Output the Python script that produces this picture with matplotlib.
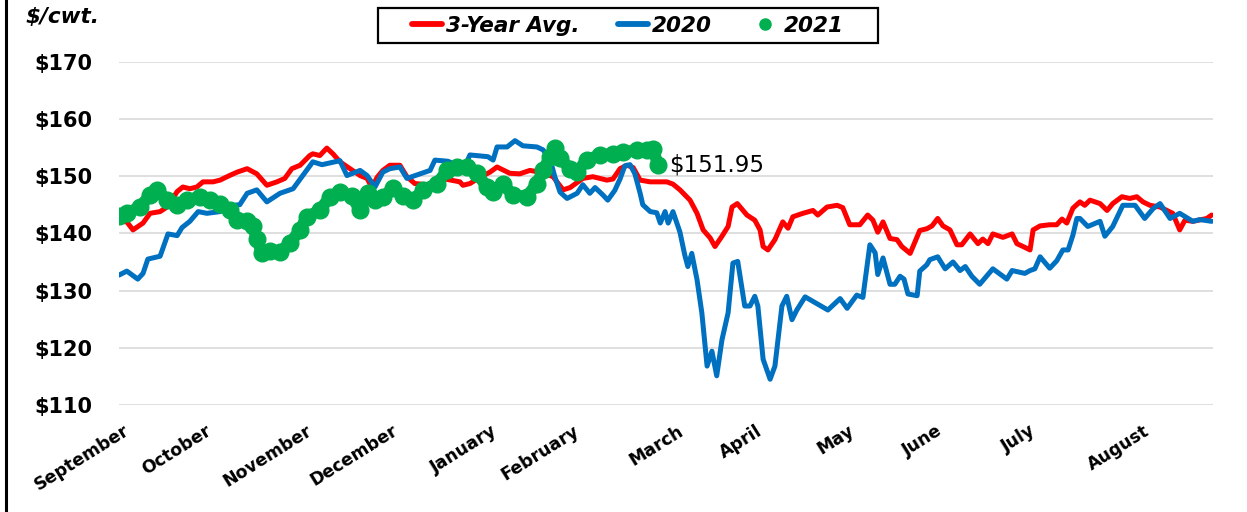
import matplotlib
matplotlib.use("Agg")
import matplotlib.pyplot as plt
from matplotlib.lines import Line2D
from matplotlib.patches import Rectangle

# ---------------- data (x = trading-day index within the marketing year) ----------------
avg_day = [0, 1.8, 3.2, 5.5, 7.1, 9.4, 11.0, 13.3, 14.6, 16.2, 17.8, 19.2, 21.5, 23.1, 24.7, 27.0,
           29.3, 31.5, 33.8, 36.1, 37.9, 39.5, 41.4, 43.6, 44.3, 45.9, 47.5, 48.9, 50.5, 52.8, 55.1,
           56.7, 57.8, 59.0, 60.3, 61.9, 64.2, 65.8, 67.6, 70.6, 74.5, 77.9, 78.6, 80.2, 82.5, 84.8,
           86.4, 89.3, 91.6, 93.9, 96.9, 99.2, 100.1, 101.5, 103.1, 106.0, 108.3, 111.5, 112.9,
           114.5, 116.1, 117.5, 119.1, 121.4, 123.7, 125.2, 126.6, 128.2, 130.5, 132.1, 133.5,
           135.1, 136.2, 137.8, 139.2, 140.1, 141.3, 143.5, 145.3, 146.5, 147.2, 148.3, 149.9,
           151.7, 152.9, 154.0, 156.3, 158.6, 159.7, 161.8, 164.1, 165.4, 167.0, 169.3, 171.1,
           172.3, 173.4, 174.6, 176.2, 177.8, 178.9, 180.8, 183.0, 184.6, 185.8, 187.1, 188.3,
           189.9, 191.5, 192.6, 194.5, 196.3, 197.4, 198.6, 199.7, 202.0, 204.1, 205.2, 206.6,
           208.2, 208.9, 210.5, 212.7, 214.3, 215.5, 216.6, 218.0, 219.6, 220.7, 221.9, 224.2,
           225.8, 227.1, 229.2, 231.0, 232.6, 234.0, 235.6, 237.9, 240.8, 242.4, 243.6, 245.4,
           248.6, 249.7]
avg_3yr = [142.1, 142.0, 140.6, 141.8, 143.5, 143.8, 144.6, 147.3, 148.1, 147.8, 148.1, 149.0,
           149.0, 149.3, 149.9, 150.7, 151.3, 150.4, 148.4, 149.0, 149.6, 151.3, 151.9, 153.6,
           153.9, 153.6, 154.9, 153.9, 152.5, 151.3, 150.1, 149.6, 148.0, 149.8, 151.0, 151.9,
           151.9, 149.9, 148.7, 148.5, 149.5, 149.0, 148.4, 148.7, 149.8, 150.7, 151.6, 150.5,
           150.4, 151.0, 150.6, 149.9, 149.0, 147.6, 148.0, 149.6, 149.9, 149.3, 149.5, 151.3,
           151.9, 151.5, 149.3, 149.0, 149.0, 149.0, 148.6, 147.6, 145.8, 143.5, 140.6, 139.2,
           137.7, 139.5, 141.2, 144.6, 145.2, 143.2, 142.3, 140.6, 137.7, 137.1, 138.9, 142.0,
           140.9, 142.9, 143.5, 144.0, 143.2, 144.6, 144.9, 144.5, 141.5, 141.5, 143.2, 142.3,
           140.2, 142.0, 139.1, 138.9, 137.7, 136.5, 140.5, 140.8, 141.3, 142.6, 141.3, 140.6,
           138.0, 138.0, 139.9, 138.2, 139.0, 138.2, 139.9, 139.3, 139.9, 138.2, 137.7, 137.1,
           140.6, 141.3, 141.5, 141.5, 142.5, 141.8, 144.4, 145.5, 144.9, 145.8, 145.2, 144.0,
           145.2, 146.4, 146.1, 146.4, 145.5, 144.9, 144.6, 143.5, 140.6, 142.3, 142.1, 142.6,
           143.2]

y2020_day = [0, 1.8, 4.3, 5.5, 6.6, 9.4, 11.2, 13.3, 14.4, 16.2, 18.1, 20.1, 23.1, 26.0, 27.6,
             29.3, 31.5, 33.8, 36.8, 39.8, 42.0, 44.3, 46.4, 48.2, 50.5, 52.1, 55.1, 56.7, 58.5,
             60.3, 61.9, 64.2, 65.8, 68.1, 71.1, 72.2, 75.2, 76.3, 79.1, 80.2, 84.3, 85.5, 86.4,
             88.7, 90.5, 92.3, 95.5, 96.9, 98.5, 99.6, 100.8, 102.4, 104.7, 106.0, 107.6, 108.8,
             110.6, 111.7, 113.3, 114.5, 115.6, 116.8, 117.9, 119.1, 119.7, 121.4, 122.9, 123.7,
             124.8, 125.5, 126.6, 128.2, 129.3, 130.0, 130.9, 132.1, 133.2, 134.4, 135.5, 136.6,
             137.8, 139.2, 140.3, 141.4, 143.0, 144.2, 145.3, 146.0, 147.2, 148.8, 149.9, 151.5,
             152.6, 153.8, 154.9, 156.8, 159.5, 162.0, 164.8, 166.4, 168.6, 170.0, 171.6, 172.8,
             173.4, 174.6, 176.2, 177.3, 178.5, 179.4, 180.3, 182.4, 183.0, 184.6, 185.3, 187.1,
             188.8, 190.6, 192.2, 193.4, 194.9, 196.7, 199.7, 202.9, 204.1, 205.9, 207.0, 208.2,
             209.3, 210.5, 212.7, 214.3, 215.7, 216.9, 218.0, 218.9, 219.6, 221.4, 224.2, 225.3,
             227.1, 229.4, 232.2, 234.4, 236.3, 237.9, 240.2, 242.4, 245.4, 247.0, 249.7]
y2020 = [132.7, 133.4, 132.0, 133.0, 135.5, 136.0, 139.9, 139.6, 141.0, 142.1, 143.8, 143.5,
         143.8, 144.9, 145.0, 147.0, 147.6, 145.5, 147.0, 147.8, 150.1, 152.5, 152.0, 152.3,
         152.7, 150.1, 151.0, 150.1, 148.1, 150.7, 151.3, 151.6, 149.6, 150.2, 151.0, 152.8,
         152.6, 152.2, 151.8, 153.7, 153.4, 152.8, 155.1, 155.1, 156.2, 155.3, 155.1, 154.6,
         153.0, 149.9, 147.2, 146.1, 147.0, 148.5, 147.0, 148.0, 146.7, 145.8, 147.5, 149.5,
         151.8, 152.0, 150.4, 147.0, 145.0, 143.8, 143.6, 141.8, 143.8, 141.8, 143.8, 140.2,
         136.2, 134.2, 136.5, 131.9, 126.1, 116.8, 119.4, 115.1, 121.4, 126.1, 134.8, 135.1,
         127.3, 127.3, 129.0, 127.3, 118.0, 114.5, 116.8, 127.3, 129.0, 124.9, 126.6, 128.9,
         127.7, 126.6, 128.6, 126.9, 129.2, 128.8, 138.0, 136.6, 132.8, 135.7, 131.1, 131.1,
         132.5, 132.0, 129.4, 129.1, 133.4, 134.5, 135.4, 135.9, 133.8, 135.0, 133.5, 134.2,
         132.5, 131.1, 133.8, 132.0, 133.5, 133.2, 133.0, 133.5, 133.8, 135.9, 133.9, 135.2,
         137.1, 137.1, 139.7, 142.6, 142.6, 141.2, 142.1, 139.5, 141.2, 144.9, 144.9, 142.6,
         144.3, 145.2, 142.6, 143.5, 142.1, 142.4, 142.1]

y2021_day = [0, 1.8, 4.8, 7.1, 8.7, 11.0, 13.3, 15.5, 18.5, 20.8, 23.1, 25.4, 27.0, 29.3, 30.6,
             31.5, 32.7, 34.5, 36.8, 39.1, 41.4, 42.9, 45.9, 48.2, 50.5, 53.2, 55.1, 56.9, 58.5,
             60.3, 62.6, 64.9, 67.2, 69.5, 72.7, 75.0, 77.2, 79.5, 81.8, 84.1, 85.5, 87.7, 90.0,
             93.2, 95.5, 96.9, 98.5, 99.6, 100.8, 103.1, 104.7, 106.9, 109.9, 112.9, 115.2,
             118.4, 120.6, 122.0, 123.2]
y2021 = [143.0, 143.5, 144.6, 146.7, 147.6, 145.8, 144.9, 145.8, 146.4, 145.8, 145.2, 144.1,
         142.4, 142.1, 141.3, 139.0, 136.5, 137.0, 136.8, 138.3, 140.6, 142.9, 144.0, 146.4,
         147.2, 146.5, 144.0, 147.0, 145.8, 146.3, 147.9, 146.5, 145.8, 147.6, 148.7, 151.0,
         151.6, 151.6, 150.5, 148.1, 147.3, 148.7, 146.7, 146.4, 148.7, 151.0, 153.4, 154.9,
         153.1, 151.3, 150.8, 152.8, 153.7, 153.9, 154.2, 154.5, 154.6, 154.8, 151.95]

month_labels = ["September", "October", "November", "December", "January", "February",
                "March", "April", "May", "June", "July", "August"]
month_pos = [0.8, 19.6, 42.7, 62.2, 84.9, 103.6, 127.6, 145.6, 166.6, 186.7, 208.0, 234.0]
y_ticks = [110, 120, 130, 140, 150, 160, 170]

# ---------------- figure ----------------
plt.rcParams['font.family'] = ['DejaVu Sans']
fig = plt.figure(figsize=(12.47, 5.12), dpi=100)
ax = fig.add_axes([0.0954, 0.2090, 0.8773, 0.6705])

RED, BLUE, GREEN = "#FF0000", "#0070C0", "#00B050"
ax.plot(avg_day, avg_3yr, color=RED, lw=3.6, solid_joinstyle='round', solid_capstyle='round',
        zorder=3)
ax.plot(y2020_day, y2020, color=BLUE, lw=3.6, solid_joinstyle='round', solid_capstyle='round',
        zorder=4)
ax.plot(y2021_day, y2021, color=GREEN, lw=8.5, marker='o', ms=12, mec=GREEN,
        solid_joinstyle='round', solid_capstyle='round', zorder=5)

ax.annotate(f"${y2021[-1]:.2f}", xy=(y2021_day[-1], y2021[-1]), xytext=(8, 0),
            textcoords='offset points', ha='left', va='center', fontsize=16.5,
            color='black')

ax.set_xlim(0, 250)
ax.set_ylim(110, 170)
ax.set_yticks(y_ticks)
ax.set_yticklabels([f"${v}" for v in y_ticks], fontsize=15, fontweight='bold')
ax.set_xticks(month_pos)
ax.set_xticklabels(month_labels, fontsize=12.5, fontweight='bold', rotation=32,
                   ha='right', va='top', rotation_mode='anchor')
ax.tick_params(axis='y', length=0, pad=19)
ax.tick_params(axis='x', length=0, pad=12)
ax.grid(axis='y', color='#D9D9D9', lw=1.2, zorder=0)
ax.grid(axis='x', visible=False)
for s in ax.spines.values():
    s.set_visible(False)

fig.text(0.02, 0.986, "$/cwt.", fontsize=15.5, fontweight='bold', style='italic',
         ha='left', va='top')

# legend frame
fig.add_artist(Rectangle((378 / 1247, 1 - 43 / 512), 500 / 1247, 35 / 512,
                         transform=fig.transFigure, fill=True, facecolor='white',
                         edgecolor='black', lw=1.6, zorder=10))
handles = [Line2D([], [], color=RED, lw=4.2, solid_capstyle='round'),
           Line2D([], [], color=BLUE, lw=4.2, solid_capstyle='round'),
           Line2D([], [], color=GREEN, marker='o', ms=8, ls='none')]
leg = fig.legend(handles, ["3-Year Avg.", "2020", "2021"], loc='center',
                 bbox_to_anchor=(628 / 1247, 1 - 25.5 / 512), bbox_transform=fig.transFigure,
                 ncol=3, frameon=False, borderaxespad=0, borderpad=0,
                 handlelength=1.4, handletextpad=0.2, columnspacing=1.75,
                 prop={'size': 15.5, 'weight': 'bold', 'style': 'italic'})
leg.set_zorder(11)

# left border line of the chart frame
fig.add_artist(Line2D([0.0048, 0.0048], [0, 1], transform=fig.transFigure, color='black', lw=2.2))

fig.savefig("out.png", dpi=100)
